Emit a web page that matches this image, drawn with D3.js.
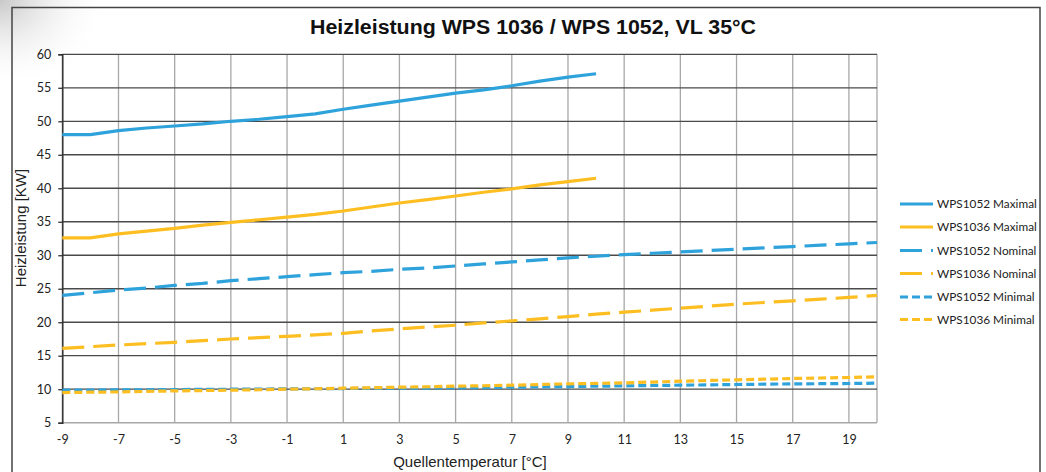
<!DOCTYPE html>
<html>
<head>
<meta charset="utf-8">
<script src="https://cdn.jsdelivr.net/npm/d3@7"></script>
<style>
  html, body { margin: 0; padding: 0; background: #fff; }
  svg { display: block; }
</style>
</head>
<body>
<svg id="chart" width="1046" height="472"></svg>
<script>
// ---- data ----
const titleText = "Heizleistung WPS 1036 / WPS 1052, VL 35°C";
const xTitle = "Quellentemperatur [°C]";
const yTitle = "Heizleistung [KW]";
const xTicks = [-9, -7, -5, -3, -1, 1, 3, 5, 7, 9, 11, 13, 15, 17, 19];
const yTicks = [5, 10, 15, 20, 25, 30, 35, 40, 45, 50, 55, 60];

const tempsMax = [-9, -8, -7, -6, -5, -4, -3, -2, -1, 0, 1, 2, 3, 4, 5, 6, 7, 8, 9, 10];
const tempsFull = [-9, -8, -7, -6, -5, -4, -3, -2, -1, 0, 1, 2, 3, 4, 5, 6, 7, 8, 9, 10, 11, 12, 13, 14, 15, 16, 17, 18, 19, 20];

const wps1052Max = [48.0, 48.0, 48.6, 49.0, 49.3, 49.6, 50.0, 50.3, 50.7, 51.1, 51.8, 52.4, 53.0, 53.6, 54.2, 54.7, 55.3, 56.0, 56.6, 57.1];
const wps1036Max = [32.6, 32.6, 33.2, 33.6, 34.0, 34.5, 34.9, 35.3, 35.7, 36.1, 36.6, 37.2, 37.8, 38.3, 38.85, 39.4, 39.9, 40.5, 41.0, 41.5];
const wps1052Nom = [24.0, 24.4, 24.8, 25.1, 25.5, 25.8, 26.2, 26.5, 26.8, 27.1, 27.4, 27.6, 27.9, 28.1, 28.4, 28.7, 29.0, 29.3, 29.6, 29.85, 30.1, 30.3, 30.5, 30.7, 30.9, 31.1, 31.3, 31.5, 31.7, 31.9];
const wps1036Nom = [16.1, 16.35, 16.6, 16.8, 17.0, 17.25, 17.5, 17.7, 17.9, 18.1, 18.35, 18.7, 19.0, 19.3, 19.55, 19.9, 20.2, 20.5, 20.85, 21.2, 21.5, 21.8, 22.1, 22.4, 22.7, 22.95, 23.2, 23.45, 23.7, 24.0];
const wps1052Min = [9.85, 9.87, 9.9, 9.92, 9.95, 9.97, 10.0, 10.02, 10.05, 10.07, 10.1, 10.12, 10.15, 10.17, 10.2, 10.25, 10.3, 10.35, 10.4, 10.45, 10.5, 10.55, 10.6, 10.65, 10.7, 10.75, 10.8, 10.82, 10.85, 10.9];
const wps1036Min = [9.5, 9.55, 9.6, 9.67, 9.75, 9.8, 9.85, 9.92, 10.0, 10.07, 10.15, 10.22, 10.3, 10.37, 10.45, 10.52, 10.6, 10.7, 10.8, 10.87, 10.95, 11.07, 11.2, 11.3, 11.4, 11.5, 11.6, 11.67, 11.75, 11.85];

const seriesNames = ["WPS1052 Maximal", "WPS1036 Maximal", "WPS1052 Nominal", "WPS1036 Nominal", "WPS1052 Minimal", "WPS1036 Minimal"];

// ---- styles ----
const BLUE = "#2ea2db", YELLOW = "#fdbe21";
const styles = [
  { color: BLUE, dash: null },
  { color: YELLOW, dash: null },
  { color: BLUE, dash: "22,9" },
  { color: YELLOW, dash: "22,9" },
  { color: BLUE, dash: "8,4" },
  { color: YELLOW, dash: "8,4" }
];
const seriesData = [
  [tempsMax, wps1052Max], [tempsMax, wps1036Max],
  [tempsFull, wps1052Nom], [tempsFull, wps1036Nom],
  [tempsFull, wps1052Min], [tempsFull, wps1036Min]
];

const svg = d3.select("#chart");

// background glow in top-left (scan artifact)
const defs = svg.append("defs");
const rg = defs.append("radialGradient").attr("id", "glow").attr("cx", "0").attr("cy", "0").attr("r", "1");
rg.append("stop").attr("offset", "0").attr("stop-color", "#c8c8c8");
rg.append("stop").attr("offset", "1").attr("stop-color", "#ffffff").attr("stop-opacity", 0);
svg.append("rect").attr("x", 0).attr("y", 0).attr("width", 110).attr("height", 90).attr("fill", "url(#glow)");

// frame
svg.append("path")
  .attr("d", "M12,472 L12,7.5 L1040,7.5 L1040,472")
  .attr("fill", "none").attr("stroke", "#444").attr("stroke-width", 1.5);

const x = d3.scaleLinear().domain([-9, 20]).range([62.3, 877]);
const y = d3.scaleLinear().domain([5, 60]).range([422.7, 54.3]);

// vertical grid
const g = svg.append("g");
g.append("g").selectAll("line").data(xTicks.concat([20])).join("line")
  .attr("x1", d => x(d)).attr("x2", d => x(d))
  .attr("y1", y(60)).attr("y2", y(5))
  .attr("stroke", "#a8a8a8").attr("stroke-width", 1.3);

// horizontal grid
g.append("g").selectAll("line").data(yTicks.filter(v => v > 5)).join("line")
  .attr("x1", x(-9)).attr("x2", x(20))
  .attr("y1", d => y(d)).attr("y2", d => y(d))
  .attr("stroke", "#4a4a4a").attr("stroke-width", 1.3);
// bottom axis line
g.append("line").attr("x1", x(-9)).attr("x2", x(20)).attr("y1", y(5)).attr("y2", y(5))
  .attr("stroke", "#a8a8a8").attr("stroke-width", 1.5);

// y axis
const yAxis = d3.axisLeft(y).tickValues(yTicks).tickSize(4).tickPadding(7).tickFormat(d => String(d));
const ya = svg.append("g").attr("transform", `translate(${x(-9)},0)`).call(yAxis);
ya.select(".domain").attr("stroke", "#333").attr("stroke-width", 1.5);
ya.selectAll(".tick line").attr("stroke", "#333").attr("stroke-width", 1.3);
ya.selectAll(".tick text").attr("font-family", "Lato, 'Open Sans', sans-serif").attr("font-size", 12.5).attr("fill", "#222");

// x axis
const xAxis = d3.axisBottom(x).tickValues(xTicks).tickSize(0).tickPadding(12).tickFormat(d => String(d));
const xa = svg.append("g").attr("transform", `translate(0,${y(5)})`).call(xAxis);
xa.select(".domain").remove();
xa.selectAll(".tick text").attr("font-family", "Lato, 'Open Sans', sans-serif").attr("font-size", 12.5).attr("fill", "#222");

// lines
const lineGen = d3.line().x(d => x(d[0])).y(d => y(d[1]));
seriesData.forEach(([xs, ys], i) => {
  const pts = xs.map((t, k) => [t, ys[k]]);
  svg.append("path").datum(pts)
    .attr("d", lineGen)
    .attr("fill", "none")
    .attr("stroke", styles[i].color)
    .attr("stroke-width", 3.2)
    .attr("stroke-dasharray", styles[i].dash);
});

// titles
svg.append("text").attr("x", 533).attr("y", 34).attr("text-anchor", "middle")
  .attr("font-family", "'Liberation Sans', Arial, sans-serif").attr("font-weight", "bold")
  .attr("font-size", 20).attr("textLength", 446).attr("lengthAdjust", "spacingAndGlyphs")
  .attr("fill", "#111").text(titleText);
svg.append("text").attr("x", 470).attr("y", 467).attr("text-anchor", "middle")
  .attr("font-family", "'Liberation Sans', Arial, sans-serif")
  .attr("font-size", 15).attr("fill", "#222").text(xTitle);
svg.append("text").attr("transform", "translate(26,228) rotate(-90)").attr("text-anchor", "middle")
  .attr("font-family", "'Liberation Sans', Arial, sans-serif")
  .attr("font-size", 15).attr("fill", "#222").text(yTitle);

// legend
const legY = [204, 227, 250.5, 273.5, 297, 319.5];
const leg = svg.append("g");
seriesNames.forEach((name, i) => {
  leg.append("line").attr("x1", 900).attr("x2", 933).attr("y1", legY[i]).attr("y2", legY[i])
    .attr("stroke", styles[i].color).attr("stroke-width", 3)
    .attr("stroke-dasharray", styles[i].dash);
  leg.append("text").attr("x", 937).attr("y", legY[i]).attr("dy", "0.35em")
    .attr("font-family", "Lato, 'Open Sans', sans-serif").attr("font-size", 11.8)
    .attr("fill", "#222").text(name);
});
</script>
</body>
</html>
